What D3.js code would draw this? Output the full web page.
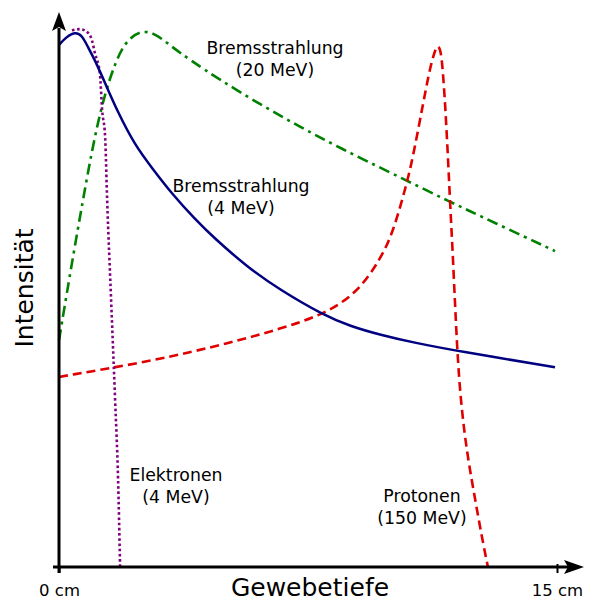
<!DOCTYPE html>
<html>
<head>
<meta charset="utf-8">
<script src="https://cdn.jsdelivr.net/npm/d3@7/dist/d3.min.js"></script>
<style>
html,body{margin:0;padding:0;background:#fff;}
svg{display:block;font-family:"DejaVu Sans",sans-serif;}
</style>
</head>
<body>
<svg id="chart" width="609" height="606"></svg>
<script>
// Depth (cm) and relative intensity values
const xTicks = [0, 15];
const xTickLabels = ["0 cm", "15 cm"];
const xTitle = "Gewebetiefe";
const yTitle = "Intensität";

const brems4Depth = [0, 0.21, 0.48, 0.69, 0.87, 1.08, 1.39, 1.78, 2.29, 2.80, 3.43, 4.10, 4.64, 5.66, 6.66, 7.95, 8.77, 9.67, 10.72, 11.99, 14.94];
const brems4Int   = [96.7, 98.1, 99.1, 98.5, 96.3, 93.9, 89.6, 84.1, 78.1, 73.9, 68.9, 64.4, 61.1, 55.6, 51.3, 46.7, 44.6, 43.0, 41.5, 40.0, 37.0];

const brems20Depth = [0, 0.30, 0.72, 1.08, 1.39, 1.69, 1.99, 2.44, 2.89, 3.40, 3.95, 4.85, 6.05, 7.26, 8.46, 10.06, 11.78, 13.07, 14.94];
const brems20Int   = [42.0, 53.1, 68.0, 80.0, 87.8, 93.3, 97.2, 99.4, 98.9, 96.3, 93.9, 90.2, 85.7, 81.5, 77.6, 72.8, 67.6, 63.9, 58.5];

const protonDepth = [0, 2.95, 5.15, 6.66, 7.95, 8.98, 9.67, 10.06, 10.48, 10.66, 10.93, 11.11, 11.23, 11.35, 11.42, 11.51, 11.57, 11.63, 11.72, 11.78, 11.87, 11.99, 12.11, 12.29, 12.50, 12.74, 12.92];
const protonInt   = [35.2, 38.3, 41.5, 44.1, 46.7, 50.7, 56.9, 61.9, 71.1, 75.9, 84.6, 90.4, 93.7, 96.1, 96.7, 95.4, 91.1, 85.9, 75.4, 67.4, 56.9, 40.2, 30.0, 21.1, 13.7, 5.4, 0];

const electronDepth = [0.39, 0.63, 0.84, 0.99, 1.08, 1.23, 1.30, 1.39, 1.45, 1.57, 1.69, 1.78, 1.84];
const electronInt   = [99.4, 99.6, 99.1, 97.6, 95.2, 91.5, 84.6, 79.6, 68.0, 49.4, 30.9, 16.1, 0];

const seriesNames = ["Bremsstrahlung (4 MeV)", "Bremsstrahlung (20 MeV)", "Protonen (150 MeV)", "Elektronen (4 MeV)"];

const svg = d3.select("#chart");
const x = d3.scaleLinear().domain([0, 15]).range([59, 557]);
const y = d3.scaleLinear().domain([0, 100]).range([567, 27]);

const zip = (a, b) => a.map((v, i) => [v, b[i]]);
const smooth = d3.line().x(d => x(d[0])).y(d => y(d[1])).curve(d3.curveBasis);
const mono = d3.line().x(d => x(d[0])).y(d => y(d[1])).curve(d3.curveMonotoneX);

const series = [
  {name: seriesNames[1], data: zip(brems20Depth, brems20Int), color: "#008000", dash: "11,5,3,5", width: 2.6, gen: smooth},
  {name: seriesNames[2], data: zip(protonDepth, protonInt), color: "#e00000", dash: "9,5", width: 2.6, gen: smooth},
  {name: seriesNames[3], data: zip(electronDepth, electronInt), color: "#800080", dash: "2.6,2.6", width: 2.6, gen: mono},
  {name: seriesNames[0], data: zip(brems4Depth, brems4Int), color: "#000080", dash: null, width: 2.5, gen: smooth}
];

svg.append("g").selectAll("path").data(series).join("path")
  .attr("d", d => d.gen(d.data))
  .attr("fill", "none")
  .attr("stroke", d => d.color)
  .attr("stroke-width", d => d.width)
  .attr("stroke-dasharray", d => d.dash);

// axes
const axisG = svg.append("g");
axisG.append("line").attr("x1", x(0)).attr("x2", x(0)).attr("y1", y(0) + 6).attr("y2", 28)
  .attr("stroke", "#000").attr("stroke-width", 3);
axisG.append("line").attr("x1", x(0) - 6).attr("x2", 568).attr("y1", y(0)).attr("y2", y(0))
  .attr("stroke", "#000").attr("stroke-width", 3);
// arrowheads
const ax = x(0);
axisG.append("path").attr("d", `M${ax},12 L${ax + 7},31 L${ax},27 L${ax - 7},31 Z`).attr("fill", "#000");
const ay = y(0);
axisG.append("path").attr("d", `M584,${ay} L564,${ay - 7} L568,${ay} L564,${ay + 7} Z`).attr("fill", "#000");

const xAxis = d3.axisBottom(x).tickValues(xTicks)
  .tickFormat((d, i) => xTickLabels[i]).tickSize(6).tickPadding(11);
const xg = svg.append("g").attr("transform", `translate(0,${y(0)})`).call(xAxis);
xg.select(".domain").remove();
xg.selectAll(".tick line").attr("stroke", "#000").attr("stroke-width", 2)
  .attr("y1", (d) => d === 15 ? -3 : 0);
xg.selectAll(".tick text").attr("font-size", 16.5).attr("font-family", "DejaVu Sans").attr("fill", "#000");

svg.append("text").attr("x", 310).attr("y", 596).attr("text-anchor", "middle")
  .attr("font-size", 25).text(xTitle);
svg.append("text").attr("transform", "translate(33,288) rotate(-90)").attr("text-anchor", "middle")
  .attr("font-size", 25).text(yTitle);

// labels
const labels = [
  {lines: ["Bremsstrahlung", "(20 MeV)"], cx: 275, y0: 54},
  {lines: ["Bremsstrahlung", "(4 MeV)"], cx: 241, y0: 192},
  {lines: ["Elektronen", "(4 MeV)"], cx: 176, y0: 481},
  {lines: ["Protonen", "(150 MeV)"], cx: 422, y0: 502}
];
labels.forEach(l => {
  const t = svg.append("text").attr("text-anchor", "middle").attr("font-size", 17.3);
  l.lines.forEach((s, i) => t.append("tspan").attr("x", l.cx).attr("y", l.y0 + i * 21.5).text(s));
});
</script>
</body>
</html>
